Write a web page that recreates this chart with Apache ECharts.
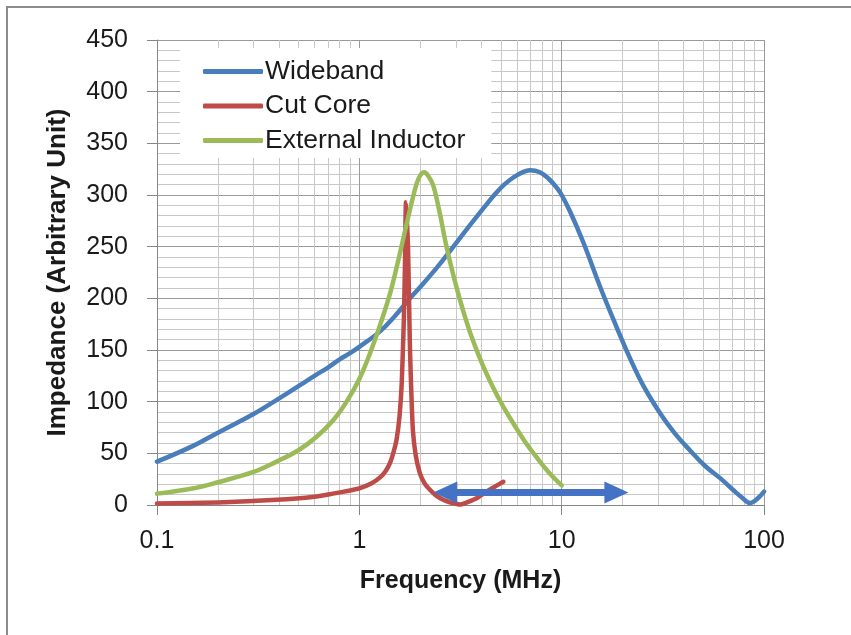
<!DOCTYPE html>
<html><head><meta charset="utf-8">
<script src="https://cdn.jsdelivr.net/npm/echarts@6/dist/echarts.min.js"></script>
<style>html,body{margin:0;padding:0;background:#fff}#c{width:851px;height:635px}</style>
</head><body><div id="c"></div>
<script>
const seriesNames = ['Wideband', 'Cut Core', 'External Inductor'];
const wideband = [[0.1,42],[0.15,57],[0.2,70],[0.3,88],[0.4,103],[0.5,115],[0.6,125],[0.7,133],[0.8,141],[0.9,147],[1.0,153],[1.265,168],[1.5,183],[1.78,200],[2.0,211],[2.4,229],[2.81,246],[3.4,267],[4.1,287],[4.6,299],[5.2,310],[6.0,319],[7.0,324],[7.8,322],[8.6,316],[9.46,307],[10,300],[11,284],[12.8,254],[15.5,211],[18.7,172],[22,140],[25.4,115],[30.6,89],[36,70],[43,53],[51,38],[60.7,26],[70,15],[78,7],[85,2],[90,4],[95,8],[100,13]];
const cutCore = [[0.1,1.5],[0.2,2.5],[0.39,5],[0.6,8],[0.74,11],[0.9,14],[1.0,16],[1.15,21],[1.27,27],[1.35,33],[1.42,41],[1.48,52],[1.53,64],[1.58,86],[1.62,118],[1.66,180],[1.68,230],[1.70,293],[1.74,250],[1.76,200],[1.78,150],[1.81,105],[1.84,72],[1.9,48],[1.99,31],[2.1,21],[2.24,14.5],[2.4,9],[2.6,5],[2.8,2.5],[3.03,1],[3.15,0.5],[3.4,2.5],[3.8,6.5],[4.25,13],[4.7,18],[5.15,22.5]];
const externalInductor = [[0.1,11],[0.15,16],[0.2,22],[0.3,32],[0.39,42],[0.5,53],[0.615,66],[0.75,83],[0.865,100],[1.0,122],[1.13,147],[1.28,177],[1.42,205],[1.55,235],[1.65,258],[1.8,290],[1.92,311],[2.0,319],[2.09,322],[2.2,318],[2.32,309],[2.5,282],[2.71,248],[3.0,213],[3.27,187],[3.6,162],[4.1,134],[4.8,106],[5.56,84],[6.5,63],[7.53,46],[8.6,32],[10,19]];
const xMin = 0.1, xMax = 100;
const yMin = 0, yMax = 450, yInterval = 50;
const minorFreqs = [0.2,0.3,0.4,0.5,0.6,0.7,0.8,0.9,2,3,4,5,6,7,8,9,20,30,40,50,60,70,80,90];
const arrowStart = [2.66, 12.1];
const arrowEnd = [18.64, 12.1];

const colors = ['#4A7EBB', '#BE4B48', '#9BBB59'];
const majorGrid = '#9a9a9a', minorGrid = '#c8c8c8';
const font = '"Liberation Sans", Arial, sans-serif';

const chart = echarts.init(document.getElementById('c'), null, {renderer: 'canvas'});
const lineSeries = (name, data, color, smooth) => ({
  name, type: 'line', data, showSymbol: false, symbol: 'none',
  smooth, z: 3,
  lineStyle: {color, width: 4.5, cap: 'round', join: 'round'}, itemStyle: {color},
  emphasis: {disabled: true}, animation: false
});
chart.setOption({
  animation: false,
  color: colors,
  graphic: [{
    type: 'rect', silent: true, z: 100,
    shape: {x: 7, y: 7, width: 900, height: 700},
    style: {fill: null, stroke: '#8c8c8c', lineWidth: 2}
  }],
  grid: {left: 157, right: 87, top: 40, bottom: 130, containLabel: false},
  legend: {
    orient: 'vertical', left: 180, top: 48,
    backgroundColor: '#ffffff',
    padding: [10, 26, 4, 23],
    itemWidth: 60, itemHeight: 5, itemGap: 7.5,
    icon: 'roundRect',
    textStyle: {fontFamily: font, fontSize: 26.5, color: '#1a1a1a', lineHeight: 26, padding: [0, 0, 0, -3]},
    data: seriesNames,
    selectedMode: false, z: 4
  },
  xAxis: {
    type: 'log', logBase: 10, min: xMin, max: xMax,
    name: 'Frequency (MHz)', nameLocation: 'middle', nameGap: 64,
    nameTextStyle: {fontFamily: font, fontSize: 25, fontWeight: 'bold', color: '#1a1a1a'},
    axisLine: {show: true, lineStyle: {color: '#868686', width: 1}},
    axisTick: {show: true, length: 10, inside: false, lineStyle: {color: '#868686'}},
    axisLabel: {fontFamily: font, fontSize: 25, color: '#1a1a1a', margin: 24},
    splitLine: {show: true, lineStyle: {color: majorGrid, width: 1}},
    minorTick: {show: false}, minorSplitLine: {show: false}
  },
  yAxis: {
    type: 'value', min: yMin, max: yMax, interval: yInterval,
    name: 'Impedance (Arbitrary Unit)', nameLocation: 'middle', nameGap: 86,
    nameTextStyle: {fontFamily: font, fontSize: 26, fontWeight: 'bold', color: '#1a1a1a'},
    axisLine: {show: true, lineStyle: {color: '#868686', width: 1}},
    axisTick: {show: true, length: 10, inside: false, lineStyle: {color: '#868686'}},
    axisLabel: {fontFamily: font, fontSize: 25, color: '#1a1a1a', margin: 29},
    splitLine: {show: true, lineStyle: {color: majorGrid, width: 1}},
    minorTick: {show: false, splitNumber: 5},
    minorSplitLine: {show: true, lineStyle: {color: minorGrid, width: 1}}
  },
  series: [
    {
      name: '_minorGrid', type: 'line', data: [], silent: true, z: 1,
      markLine: {
        silent: true, z: 1, symbol: 'none', animation: false,
        label: {show: false}, emphasis: {disabled: true},
        lineStyle: {color: minorGrid, width: 1, type: 'solid'},
        data: minorFreqs.map(v => ({xAxis: v}))
      }
    },
    lineSeries(seriesNames[0], wideband, colors[0], 0.4),
    lineSeries(seriesNames[1], cutCore, colors[1], 0.2),
    Object.assign(lineSeries(seriesNames[2], externalInductor, colors[2], 0.4), {
      markLine: {
        silent: true, z: 6, animation: false,
        symbol: ['triangle', 'triangle'], symbolSize: [22, 24],
        label: {show: false}, emphasis: {disabled: true},
        lineStyle: {color: '#4472C4', width: 7, type: 'solid', opacity: 1},
        itemStyle: {color: '#4472C4'},
        data: [[{coord: arrowStart}, {coord: arrowEnd}]]
      }
    })
  ]
});
</script></body></html>
